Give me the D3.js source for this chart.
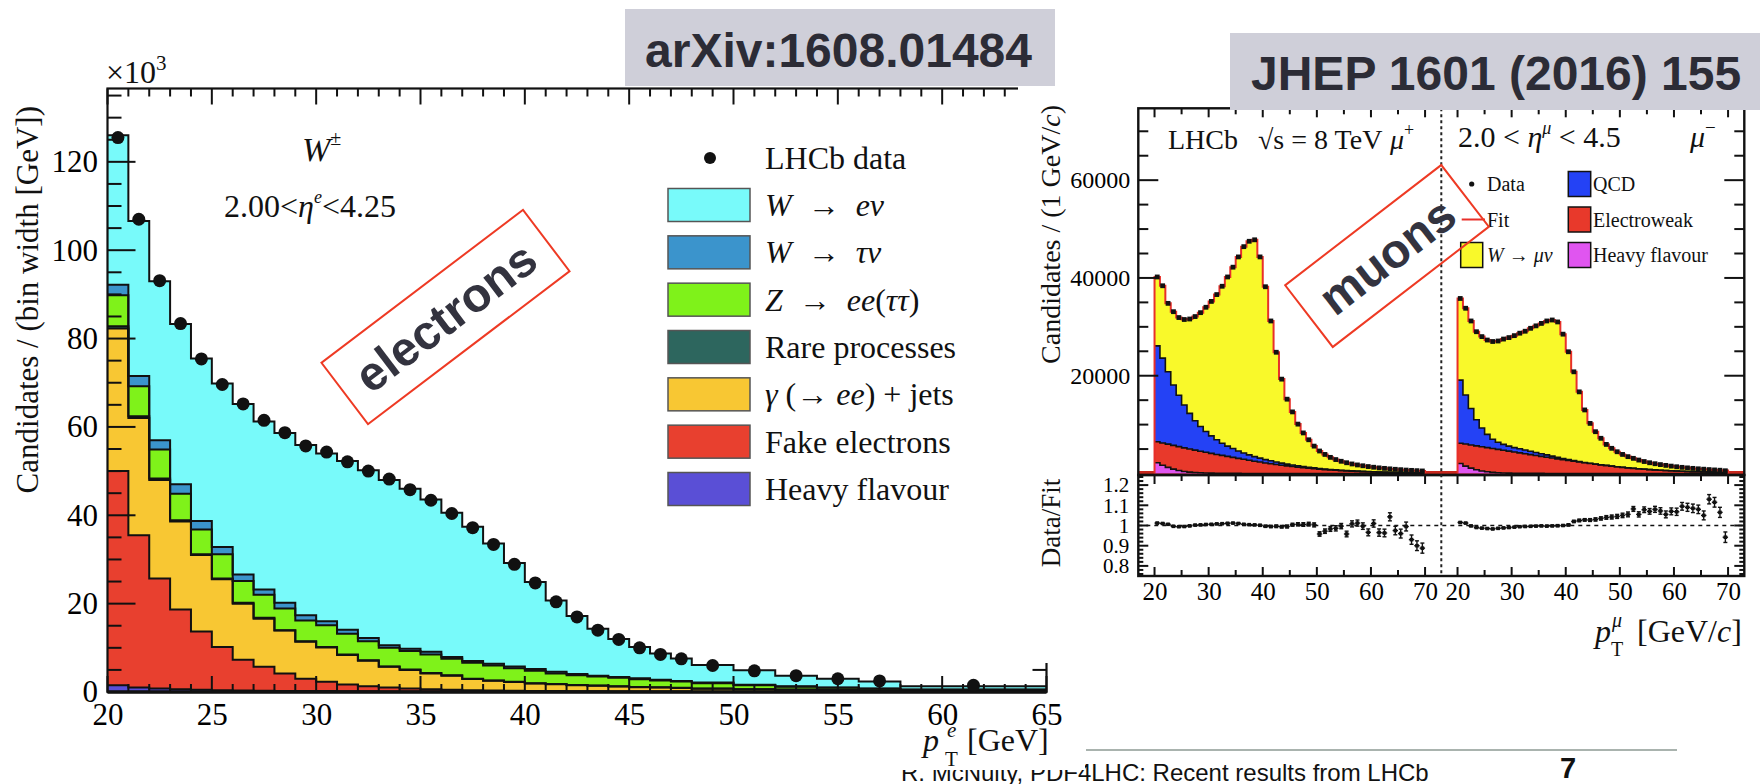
<!DOCTYPE html>
<html>
<head>
<meta charset="utf-8">
<script src="https://cdn.jsdelivr.net/npm/d3@7"></script>
<style>
  body { margin: 0; background: #fff; }
  svg { display: block; }
</style>
</head>
<body>
<svg id="chart" width="1760" height="784"></svg>
<script>
// ---------- W -> e nu analysis: pT(e) spectrum, stacked by process ----------
const eBinEdges = [20,21,22,23,24,25,26,27,28,29,30,31,32,33,34,35,36,37,38,39,40,41,42,43,44,45,46,47,48,50,52,54,56,58,65];
const electronData = [125.5,107.0,93.1,83.4,75.4,69.6,65.2,61.5,58.7,55.7,54.3,52.1,50.0,48.2,45.8,43.4,40.4,37.2,33.4,28.9,24.7,20.4,17.0,14.0,11.9,10.0,8.5,7.5,6.0,4.8,3.7,3.0,2.5,1.5];
const heavyFlavour  = [1.5,1.0,0.8,0.6,0.5,0.4,0.35,0.3,0.25,0.2,0.2,0.15,0.15,0.1,0.1,0.1,0.1,0.05,0.05,0.05,0.05,0.05,0.04,0.04,0.04,0.03,0.03,0.03,0.02,0.02,0.02,0.01,0.01,0.01];
const fakeElectrons = [48.5,34.5,24.9,18.1,13.2,9.8,6.95,5.4,3.95,2.8,2.1,1.55,1.15,0.9,0.7,0.5,0.4,0.35,0.3,0.25,0.2,0.15,0.14,0.12,0.1,0.09,0.07,0.06,0.06,0.04,0.03,0.03,0.02,0.01];
const gammaJets     = [32.3,26.5,22.3,19.9,17.3,15.3,12.7,10.9,9.7,8.4,7.8,6.7,5.8,4.7,4.2,3.6,3.2,2.55,2.2,1.95,1.7,1.55,1.37,1.24,1.11,0.98,0.9,0.81,0.67,0.54,0.45,0.36,0.27,0.18];
const rareProcesses = [0.5,0.4,0.3,0.3,0.2,0.2,0.2,0.2,0.1,0.1,0.1,0.1,0.1,0.1,0.1,0.1,0.1,0.05,0.05,0.05,0.05,0.05,0.05,0.05,0.05,0.05,0.05,0.05,0.05,0.05,0.05,0.05,0.05,0.05];
const zToEE         = [7.0,6.8,6.6,6.0,5.6,5.5,4.9,5.2,4.9,4.7,4.9,4.7,4.3,4.2,4.2,4.2,3.7,3.6,3.4,3.1,2.8,2.4,2.2,2.05,1.9,1.75,1.55,1.4,1.2,0.9,0.65,0.5,0.4,0.25];
const wToTauNu      = [2.4,2.3,2.1,2.1,1.9,1.6,1.5,1.2,1.3,1.2,0.9,0.9,0.7,0.6,0.5,0.6,0.4,0.4,0.4,0.4,0.4,0.4,0.3,0.2,0.2,0.2,0.2,0.15,0.15,0.1,0.1,0.05,0.05,0.05];
const wToENu        = [33.8,35.1,36.0,36.3,36.8,37.0,38.6,38.0,38.4,38.5,38.0,38.2,38.0,37.4,36.2,34.5,32.7,30.4,27.2,23.4,19.7,16.1,13.1,10.6,8.6,7.1,5.9,5.1,3.95,3.25,2.4,2.0,1.6,0.75];
const eTickLabels = [20,25,30,35,40,45,50,55,60,65];
const eYTickLabels = [0,20,40,60,80,100,120];
const eLegendLabels = ['W  \u2192  e\u03bd','W  \u2192  \u03c4\u03bd','Z  \u2192  ee(\u03c4\u03c4)','Rare processes','\u03b3 (\u2192 ee) + jets','Fake electrons','Heavy flavour'];

// ---------- W -> mu nu analysis: pT(mu) spectra for mu+ and mu-, 1 GeV bins 20-70 ----------
const muBins = d3.range(20, 70);
const dataMuPlus = [40200,38400,34800,33100,31900,31500,31600,32100,32900,34000,
  35200,36600,38300,40200,42200,44300,46400,47500,47800,44300,
  38200,31200,24800,19300,15200,12600,10100,8300,6900,5600,
  4600,3900,3300,2850,2500,2200,1950,1750,1580,1420,
  1280,1150,1050,950,860,780,700,640,580,520];
const hfMuPlus = [2200,1700,1250,900,620,420,290,200,140,100,
  70,50,40,30,24,19,15,12,10,8,
  7,6,5,5,4,4,3,3,3,2,
  2,2,2,2,1,1,1,1,1,1,
  1,1,1,1,1,1,1,1,1,1];
const ewMuPlus = [4300,4550,4750,4850,4880,4830,4710,4580,4420,4240,
  4050,3850,3660,3470,3280,3080,2890,2690,2510,2330,
  2150,1990,1840,1690,1550,1420,1300,1180,1070,970,
  880,800,720,650,590,530,480,430,390,350,
  320,290,260,230,210,190,170,150,140,120];
const qcdMuPlus = [19600,17350,14800,12350,10500,8750,7300,6020,5040,4260,
  3580,3000,2500,2100,1800,1500,1300,1100,930,810,
  690,600,510,430,370,320,280,240,210,180,
  150,120,110,90,80,70,60,50,45,40,
  35,30,30,25,23,20,18,15,13,12];
const wMuPlus = [14100,14800,14000,15000,15900,17500,19300,21300,23300,25400,
  27500,29700,32100,34600,37100,39700,42200,43700,44350,41150,
  35350,28600,22450,17180,13280,10860,8520,6880,5620,4450,
  3570,2980,2470,2110,1830,1600,1410,1270,1145,1030,
  925,830,760,690,627,570,512,470,427,383];
const ratioMuPlus = [1.012,1.010,1.006,0.996,0.994,0.995,0.998,1.002,1.003,1.005,
  1.006,1.008,1.009,1.011,1.012,1.010,1.006,1.004,1.003,1.001,
  0.996,0.995,0.996,0.994,0.995,1.004,1.006,1.005,1.007,1.003,
  0.958,0.972,0.983,0.986,0.997,0.958,1.008,1.012,0.997,0.966,
  1.010,0.965,0.963,1.043,0.975,0.960,0.995,0.930,0.900,0.888];
const errMuPlus = [0.003,0.003,0.003,0.003,0.003,0.003,0.003,0.003,0.003,0.003,
  0.003,0.003,0.003,0.003,0.003,0.003,0.003,0.003,0.003,0.004,
  0.005,0.005,0.006,0.006,0.007,0.007,0.008,0.009,0.009,0.010,
  0.011,0.011,0.012,0.013,0.013,0.014,0.015,0.015,0.016,0.017,
  0.018,0.018,0.019,0.020,0.021,0.022,0.022,0.023,0.024,0.025];

const dataMuMinus = [35800,33800,31200,29000,28000,27300,27000,27100,27500,27800,
  28200,28700,29100,29700,30200,30700,31200,31400,31000,28500,
  24900,20800,16700,13000,10250,8550,7200,5950,5150,4450,
  3900,3450,3100,2750,2450,2200,2000,1820,1660,1510,
  1380,1260,1150,1050,960,880,800,730,670,560];
const hfMuMinus = [2050,1500,1100,760,520,350,240,160,110,80,
  60,45,35,28,22,18,15,12,10,8,
  7,6,5,5,4,4,3,3,3,2,
  2,2,2,2,1,1,1,1,1,1,
  1,1,1,1,1,1,1,1,1,1];
const ewMuMinus = [4150,4520,4740,4900,4960,4950,4880,4780,4650,4500,
  4340,4180,4010,3830,3660,3480,3320,3150,2980,2810,
  2640,2490,2340,2190,2040,1900,1760,1630,1500,1370,
  1250,1150,1050,960,880,800,730,670,610,550,
  500,460,420,380,350,320,290,260,240,210];
const qcdMuMinus = [12900,10030,7460,5340,3820,2700,1880,1460,1190,1020,
  900,830,760,690,620,550,470,390,310,260,
  210,150,110,70,40,30,26,22,19,16,
  14,12,10,9,8,7,6,5,5,4,
  4,3,3,3,2,2,2,2,1,1];
const wMuMinus = [16700,17750,17900,18000,18700,19300,20000,20700,21550,22200,
  22900,23650,24300,25150,25900,26650,27400,27850,27700,25420,
  22040,18150,14250,10740,8170,6620,5410,4300,3630,3060,
  2640,2290,2040,1780,1560,1390,1260,1150,1050,960,
  880,800,730,660,610,560,510,460,430,390];
const ratioMuMinus = [1.015,1.012,0.998,0.990,0.987,0.985,0.983,0.986,0.988,0.990,
  0.992,0.994,0.995,0.996,0.997,0.998,0.997,0.998,0.999,1.000,
  1.003,1.020,1.025,1.028,1.027,1.030,1.035,1.040,1.042,1.045,
  1.050,1.055,1.082,1.055,1.078,1.070,1.080,1.072,1.055,1.070,
  1.068,1.095,1.090,1.085,1.080,1.050,1.130,1.115,1.065,0.942];
const errMuMinus = [0.003,0.003,0.003,0.003,0.003,0.003,0.003,0.003,0.003,0.003,
  0.003,0.003,0.003,0.003,0.003,0.003,0.003,0.003,0.004,0.004,
  0.005,0.005,0.006,0.006,0.007,0.008,0.008,0.009,0.010,0.010,
  0.011,0.012,0.012,0.013,0.014,0.014,0.015,0.016,0.017,0.017,
  0.018,0.019,0.020,0.021,0.021,0.022,0.023,0.024,0.025,0.026];
const muTickLabels = [20,30,40,50,60,70];
const muYTickLabels = [20000,40000,60000];
const ratioTickLabels = [0.8,0.9,1,1.1,1.2];
const muLegendLeft = ['Data','Fit','W \u2192 \u03bc\u03bd'];
const muLegendRight = ['QCD','Electroweak','Heavy flavour'];

// ---------- drawing ----------
const SERIF = '"Liberation Serif","Times New Roman",serif';
const SANS = '"Liberation Sans",Arial,Helvetica,sans-serif';
const svg = d3.select('#chart');

// slide footer (sits underneath the pasted figures)
svg.append('line').attr('x1', 1086).attr('x2', 1677).attr('y1', 750).attr('y2', 750)
  .attr('stroke', '#a9b3ae').attr('stroke-width', 2);
svg.append('text').attr('x', 901).attr('y', 781).attr('font-family', SANS).attr('font-size', 24)
  .attr('fill', '#111').text('R. McNulty, PDF4LHC: Recent results from LHCb');
svg.append('text').attr('x', 1560).attr('y', 778).attr('font-family', SANS).attr('font-size', 29)
  .attr('font-weight', 'bold').attr('fill', '#111').text('7');

// white backing of the electron figure
svg.append('rect').attr('x', 0).attr('y', 0).attr('width', 1085).attr('height', 770).attr('fill', '#fff');

// step-histogram helpers
const stepPts = layer => layer.flatMap(s => [
  { x: s.data.x0, lo: s[0], hi: s[1] },
  { x: s.data.x1, lo: s[0], hi: s[1] }
]);

// ===== electron figure =====
const L = svg.append('g');
const xe = d3.scaleLinear().domain([20, 65]).range([107.5, 1046.5]);
const ye = d3.scaleLinear().domain([0, 136.6]).range([692, 88.5]);
const eKeys = ['hf', 'fake', 'gamma', 'rare', 'z', 'wtau', 'we'];
const eColors = { hf: '#5a4fd6', fake: '#e8402f', gamma: '#f8c733', rare: '#2d665e', z: '#7ff21a', wtau: '#3b94cc', we: '#78fafa' };
const eRows = electronData.map((d, i) => ({
  x0: eBinEdges[i], x1: eBinEdges[i + 1], data: d,
  hf: heavyFlavour[i], fake: fakeElectrons[i], gamma: gammaJets[i], rare: rareProcesses[i],
  z: zToEE[i], wtau: wToTauNu[i], we: wToENu[i]
}));
const eStack = d3.stack().keys(eKeys)(eRows);
const eArea = d3.area().x(p => xe(p.x)).y0(p => ye(p.lo)).y1(p => ye(p.hi));
const eLine = d3.line().x(p => xe(p.x)).y(p => ye(p.hi));
L.selectAll('path.efill').data(eStack).join('path').attr('class', 'efill')
  .attr('d', l => eArea(stepPts(l))).attr('fill', l => eColors[l.key]);
L.selectAll('path.eedge').data(eStack).join('path').attr('class', 'eedge')
  .attr('d', l => eLine(stepPts(l))).attr('fill', 'none').attr('stroke', '#111').attr('stroke-width', 2);

// frame and inward ticks
const eTx = d3.range(20, 65.001, 1);
const eTy = d3.range(0, 136, 5);
L.selectAll('line.etb').data(eTx).join('line').attr('class', 'etb')
  .attr('x1', d => xe(d)).attr('x2', d => xe(d)).attr('y1', ye(0)).attr('y2', d => ye(0) - (d % 5 === 0 ? 16 : 8));
L.selectAll('line.ett').data(eTx).join('line').attr('class', 'ett')
  .attr('x1', d => xe(d)).attr('x2', d => xe(d)).attr('y1', ye(136.6)).attr('y2', d => ye(136.6) + (d % 5 === 0 ? 16 : 8));
L.selectAll('line.etl').data(eTy).join('line').attr('class', 'etl')
  .attr('y1', d => ye(d)).attr('y2', d => ye(d)).attr('x1', xe(20)).attr('x2', d => xe(20) + (d % 20 === 0 ? 28 : 14));
L.selectAll('line.etr').data(eTy).join('line').attr('class', 'etr')
  .attr('y1', d => ye(d)).attr('y2', d => ye(d)).attr('x1', xe(65)).attr('x2', d => xe(65) - (d % 20 === 0 ? 28 : 14));
L.selectAll('line').attr('stroke', '#111').attr('stroke-width', 2);
L.append('rect').attr('x', xe(20)).attr('y', ye(136.6)).attr('width', xe(65) - xe(20)).attr('height', ye(0) - ye(136.6))
  .attr('fill', 'none').attr('stroke', '#111').attr('stroke-width', 2.2);
L.append('line').attr('x1', xe(20)).attr('x2', xe(65)).attr('y1', ye(0)).attr('y2', ye(0)).attr('stroke', '#111').attr('stroke-width', 3.5);

// data points
L.selectAll('circle.ept').data(eRows).join('circle').attr('class', 'ept')
  .attr('cx', d => xe((d.x0 + d.x1) / 2)).attr('cy', d => ye(d.data)).attr('r', 6.5).attr('fill', '#111');

// tick labels
L.append('g').attr('transform', `translate(0,${ye(0)})`)
  .call(d3.axisBottom(xe).tickValues(eTickLabels).tickSize(0).tickPadding(11))
  .call(g => g.select('.domain').remove())
  .attr('font-family', SERIF).attr('font-size', 31);
L.append('g').attr('transform', `translate(${xe(20)},0)`)
  .call(d3.axisLeft(ye).tickValues(eYTickLabels).tickSize(0).tickPadding(9.5))
  .call(g => g.select('.domain').remove())
  .attr('font-family', SERIF).attr('font-size', 31);

// axis titles
const t10 = L.append('text').attr('x', 106).attr('y', 83).attr('font-family', SERIF).attr('font-size', 32).attr('fill', '#111');
t10.append('tspan').text('\u00d710');
t10.append('tspan').attr('font-size', 21).attr('dy', -13).text('3');
L.append('text').attr('transform', 'translate(38,106) rotate(-90)').attr('text-anchor', 'end')
  .attr('font-family', SERIF).attr('font-size', 31).attr('fill', '#111').text('Candidates / (bin width [GeV])');
const eXt = L.append('g').attr('font-family', SERIF).attr('fill', '#111');
eXt.append('text').attr('x', 923).attr('y', 751).attr('font-size', 32).attr('font-style', 'italic').text('p');
eXt.append('text').attr('x', 947).attr('y', 737).attr('font-size', 21).attr('font-style', 'italic').text('e');
eXt.append('text').attr('x', 945).attr('y', 766).attr('font-size', 21).text('T');
eXt.append('text').attr('x', 967).attr('y', 751).attr('font-size', 32).text('[GeV]');

// in-plot labels
const wpm = L.append('text').attr('x', 302).attr('y', 161).attr('font-family', SERIF).attr('font-size', 34).attr('fill', '#111');
wpm.append('tspan').attr('font-style', 'italic').text('W');
wpm.append('tspan').attr('font-size', 20).attr('dy', -16).text('\u00b1');
const etaE = L.append('text').attr('x', 224).attr('y', 217).attr('font-family', SERIF).attr('font-size', 32).attr('fill', '#111');
etaE.append('tspan').text('2.00<');
etaE.append('tspan').attr('font-style', 'italic').text('\u03b7');
etaE.append('tspan').attr('font-style', 'italic').attr('font-size', 18).attr('dy', -14).text('e');
etaE.append('tspan').attr('dy', 14).text('<4.25');

// legend
function mathLabel(sel, str, isMath) {
  if (!isMath) { sel.text(str); return; }
  const tokens = str.match(/[A-Za-z\u0370-\u03ff]+|[^A-Za-z\u0370-\u03ff]+/g);
  tokens.forEach(tok => {
    const word = /[A-Za-z\u0370-\u03ff]/.test(tok);
    sel.append('tspan').attr('font-style', word && tok !== 'jets' ? 'italic' : 'normal').text(tok);
  });
}
const eLeg = L.append('g').attr('font-family', SERIF).attr('font-size', 32).attr('fill', '#111');
eLeg.append('circle').attr('cx', 710).attr('cy', 158).attr('r', 6).attr('fill', '#111');
eLeg.append('text').attr('x', 765).attr('y', 169).text('LHCb data');
const legendKeys = ['we', 'wtau', 'z', 'rare', 'gamma', 'fake', 'hf'];
const legRow = d3.scaleLinear().domain([0, 6]).range([205, 489]);
legendKeys.forEach((k, i) => {
  const cy = legRow(i);
  eLeg.append('rect').attr('x', 668).attr('y', cy - 16.5).attr('width', 82).attr('height', 33)
    .attr('fill', eColors[k]).attr('stroke', '#555').attr('stroke-width', 1.5);
  const t = eLeg.append('text').attr('x', 765).attr('y', cy + 11).style('white-space', 'pre');
  mathLabel(t, eLegendLabels[i], eLegendLabels[i].includes('\u2192'));
});

// white backing of the muon figure
svg.append('rect').attr('x', 1018).attr('y', 0).attr('width', 742).attr('height', 663).attr('fill', '#fff');

// ===== muon figure =====
const R = svg.append('g');
const xr = d3.scaleLinear().domain([17, 129]).range([1138.3, 1744.3]);
const yr = d3.scaleLinear().domain([0, 74700]).range([473.5, 108.3]);
const rr = d3.scaleLinear().domain([0.75, 1.25]).range([576, 475]);
const muShift = 56;   // mu- spectrum is drawn to the right of the mu+ one
const muColors = { hf: '#e055f0', ew: '#e8392b', qcd: '#2442f5', w: '#f9f92a' };
const muSets = [
  { shift: 0, data: dataMuPlus, hf: hfMuPlus, ew: ewMuPlus, qcd: qcdMuPlus, w: wMuPlus, ratio: ratioMuPlus, err: errMuPlus },
  { shift: muShift, data: dataMuMinus, hf: hfMuMinus, ew: ewMuMinus, qcd: qcdMuMinus, w: wMuMinus, ratio: ratioMuMinus, err: errMuMinus }
];
const muArea = d3.area().x(p => xr(p.x)).y0(p => yr(p.lo)).y1(p => yr(p.hi));
const muLine = d3.line().x(p => xr(p.x)).y(p => yr(p.hi));

// red fit baseline along zero
R.append('line').attr('x1', xr(17)).attr('x2', xr(129)).attr('y1', yr(0) - 1).attr('y2', yr(0) - 1)
  .attr('stroke', '#c8281e').attr('stroke-width', 3);

muSets.forEach(set => {
  const rows = muBins.map((b, i) => ({
    x0: b + set.shift, x1: b + 1 + set.shift, data: set.data[i],
    hf: set.hf[i], ew: set.ew[i], qcd: set.qcd[i], w: set.w[i],
    ratio: set.ratio[i], err: set.err[i]
  }));
  const stack = d3.stack().keys(['hf', 'ew', 'qcd', 'w'])(rows);
  const g = R.append('g');
  g.selectAll('path.mfill').data(stack).join('path').attr('class', 'mfill')
    .attr('d', l => muArea(stepPts(l))).attr('fill', l => muColors[l.key]);
  g.selectAll('path.medge').data(stack.slice(0, 3)).join('path').attr('class', 'medge')
    .attr('d', l => muLine(stepPts(l))).attr('fill', 'none').attr('stroke', '#111').attr('stroke-width', 1.6);
  // fit outline
  const top = stepPts(stack[3]);
  const fitPts = [{ x: rows[0].x0, hi: 0 }, ...top, { x: rows[rows.length - 1].x1, hi: 0 }];
  g.append('path').attr('d', muLine(fitPts)).attr('fill', 'none').attr('stroke', '#e8302a').attr('stroke-width', 2);
  // data
  g.selectAll('rect.mpt').data(rows).join('rect').attr('class', 'mpt')
    .attr('x', d => xr(d.x0 + 0.5) - 2.4).attr('y', d => yr(d.data) - 2.4)
    .attr('width', 4.8).attr('height', 4.8).attr('fill', '#111');
  // ratio points
  const rg = R.append('g').attr('stroke', '#111').attr('stroke-width', 1.4);
  rg.selectAll('line.rh').data(rows).join('line').attr('class', 'rh')
    .attr('x1', d => xr(d.x0)).attr('x2', d => xr(d.x1)).attr('y1', d => rr(d.ratio)).attr('y2', d => rr(d.ratio));
  rg.selectAll('line.rv').data(rows).join('line').attr('class', 'rv')
    .attr('x1', d => xr(d.x0 + 0.5)).attr('x2', d => xr(d.x0 + 0.5))
    .attr('y1', d => rr(d.ratio - d.err)).attr('y2', d => rr(d.ratio + d.err));
  rg.selectAll('line.rc1').data(rows).join('line').attr('class', 'rc1')
    .attr('x1', d => xr(d.x0 + 0.5) - 2).attr('x2', d => xr(d.x0 + 0.5) + 2)
    .attr('y1', d => rr(d.ratio + d.err)).attr('y2', d => rr(d.ratio + d.err));
  rg.selectAll('line.rc2').data(rows).join('line').attr('class', 'rc2')
    .attr('x1', d => xr(d.x0 + 0.5) - 2).attr('x2', d => xr(d.x0 + 0.5) + 2)
    .attr('y1', d => rr(d.ratio - d.err)).attr('y2', d => rr(d.ratio - d.err));
  rg.selectAll('rect.rpt').data(rows).join('rect').attr('class', 'rpt').attr('stroke', 'none')
    .attr('x', d => xr(d.x0 + 0.5) - 1.8).attr('y', d => rr(d.ratio) - 1.8)
    .attr('width', 3.6).attr('height', 3.6).attr('fill', '#111');
});

// reference line at unity
R.append('line').attr('x1', xr(17)).attr('x2', xr(129)).attr('y1', rr(1)).attr('y2', rr(1))
  .attr('stroke', '#111').attr('stroke-width', 1.6).attr('stroke-dasharray', '4,4');

// frames
R.append('rect').attr('x', xr(17)).attr('y', yr(74700)).attr('width', xr(129) - xr(17)).attr('height', rr(1.25) - yr(74700))
  .attr('fill', 'none').attr('stroke', '#111').attr('stroke-width', 2.4);
R.append('rect').attr('x', xr(17)).attr('y', rr(1.25)).attr('width', xr(129) - xr(17)).attr('height', rr(0.75) - rr(1.25))
  .attr('fill', 'none').attr('stroke', '#111').attr('stroke-width', 2.4);

// separator between the two charges
R.append('line').attr('x1', xr(73)).attr('x2', xr(73)).attr('y1', yr(74700)).attr('y2', rr(0.75))
  .attr('stroke', '#222').attr('stroke-width', 2).attr('stroke-dasharray', '3,3');

// ticks
const muTx = [...d3.range(20, 70.1, 5), ...d3.range(20, 70.1, 5).map(v => v + muShift)];
const isMajorX = v => ((v >= 73 ? v - muShift : v) % 10) === 0;
const tk = R.append('g').attr('stroke', '#111').attr('stroke-width', 2);
tk.selectAll('line.a').data(muTx).join('line').attr('class', 'a')
  .attr('x1', d => xr(d)).attr('x2', d => xr(d)).attr('y1', yr(74700)).attr('y2', d => yr(74700) + (isMajorX(d) ? 9 : 6));
tk.selectAll('line.b').data(muTx).join('line').attr('class', 'b')
  .attr('x1', d => xr(d)).attr('x2', d => xr(d)).attr('y1', rr(1.25)).attr('y2', d => rr(1.25) + (isMajorX(d) ? 9 : 6));
tk.selectAll('line.c').data(muTx).join('line').attr('class', 'c')
  .attr('x1', d => xr(d)).attr('x2', d => xr(d)).attr('y1', rr(0.75)).attr('y2', d => rr(0.75) - (isMajorX(d) ? 9 : 6));
const muTy = d3.range(5000, 74700, 5000);
tk.selectAll('line.d').data(muTy).join('line').attr('class', 'd')
  .attr('y1', d => yr(d)).attr('y2', d => yr(d)).attr('x1', xr(17)).attr('x2', d => xr(17) + (d % 20000 === 0 ? 20 : 10));
tk.selectAll('line.e').data(muTy).join('line').attr('class', 'e')
  .attr('y1', d => yr(d)).attr('y2', d => yr(d)).attr('x1', xr(129)).attr('x2', d => xr(129) - (d % 20000 === 0 ? 20 : 10));
const rTy = d3.range(38, 63).map(v => v / 50);
const isMajorR = v => Math.abs(v * 10 - Math.round(v * 10)) < 1e-6;
tk.selectAll('line.f').data(rTy).join('line').attr('class', 'f')
  .attr('y1', d => rr(d)).attr('y2', d => rr(d)).attr('x1', xr(17)).attr('x2', d => xr(17) + (isMajorR(d) ? 10 : 5));
tk.selectAll('line.g').data(rTy).join('line').attr('class', 'g')
  .attr('y1', d => rr(d)).attr('y2', d => rr(d)).attr('x1', xr(129)).attr('x2', d => xr(129) - (isMajorR(d) ? 10 : 5));

// tick labels
R.append('g').attr('transform', `translate(0,${rr(0.75)})`)
  .call(d3.axisBottom(xr).tickValues([...muTickLabels, ...muTickLabels.map(v => v + muShift)])
    .tickFormat(d => d >= 73 ? d - muShift : d).tickSize(0).tickPadding(6))
  .call(g => g.select('.domain').remove())
  .attr('font-family', SERIF).attr('font-size', 25);
R.append('g').attr('transform', `translate(${xr(17)},0)`)
  .call(d3.axisLeft(yr).tickValues(muYTickLabels).tickFormat(d3.format('d')).tickSize(0).tickPadding(8))
  .call(g => g.select('.domain').remove())
  .attr('font-family', SERIF).attr('font-size', 24);
R.append('g').attr('transform', `translate(${xr(17)},0)`)
  .call(d3.axisLeft(rr).tickValues(ratioTickLabels).tickFormat(d => d === 1 ? '1' : d3.format('.1f')(d)).tickSize(0).tickPadding(9))
  .call(g => g.select('.domain').remove())
  .attr('font-family', SERIF).attr('font-size', 21);

// axis titles
const yTm = R.append('text').attr('transform', 'translate(1060,105) rotate(-90)').attr('text-anchor', 'end')
  .attr('font-family', SERIF).attr('font-size', 28).attr('fill', '#111');
yTm.append('tspan').text('Candidates / (1 GeV/');
yTm.append('tspan').attr('font-style', 'italic').text('c');
yTm.append('tspan').text(')');
R.append('text').attr('transform', 'translate(1060,523) rotate(-90)').attr('text-anchor', 'middle')
  .attr('font-family', SERIF).attr('font-size', 27).attr('fill', '#111').text('Data/Fit');
const mXt = R.append('g').attr('font-family', SERIF).attr('fill', '#111');
mXt.append('text').attr('x', 1595).attr('y', 642).attr('font-size', 32).attr('font-style', 'italic').text('p');
mXt.append('text').attr('x', 1612).attr('y', 627).attr('font-size', 20).attr('font-style', 'italic').text('\u03bc');
mXt.append('text').attr('x', 1611).attr('y', 656).attr('font-size', 20).text('T');
const gevc = mXt.append('text').attr('x', 1637).attr('y', 642).attr('font-size', 32);
gevc.append('tspan').text('[GeV/');
gevc.append('tspan').attr('font-style', 'italic').text('c');
gevc.append('tspan').text(']');

// in-plot labels
const lh = R.append('text').attr('y', 149).attr('font-family', SERIF).attr('font-size', 28).attr('fill', '#111');
lh.append('tspan').attr('x', 1168).text('LHCb');
lh.append('tspan').attr('x', 1258).text('\u221as = 8 TeV');
lh.append('tspan').attr('x', 1390).attr('font-style', 'italic').text('\u03bc');
lh.append('tspan').attr('font-size', 18).attr('dy', -13).text('+');
const etaM = R.append('text').attr('x', 1458).attr('y', 147).attr('font-family', SERIF).attr('font-size', 30).attr('fill', '#111').style('white-space', 'pre');
etaM.append('tspan').text('2.0 < ');
etaM.append('tspan').attr('font-style', 'italic').text('\u03b7');
etaM.append('tspan').attr('font-style', 'italic').attr('font-size', 18).attr('dy', -13).text('\u03bc');
etaM.append('tspan').attr('dy', 13).text(' < 4.5');
const mm = R.append('text').attr('x', 1690).attr('y', 147).attr('font-family', SERIF).attr('font-size', 30).attr('fill', '#111');
mm.append('tspan').attr('font-style', 'italic').text('\u03bc');
mm.append('tspan').attr('font-size', 19).attr('dy', -13).text('\u2212');

// legend
const mLeg = R.append('g').attr('font-family', SERIF).attr('font-size', 20).attr('fill', '#111');
const mRow = d3.scaleLinear().domain([0, 2]).range([184, 255]);
mLeg.append('circle').attr('cx', 1471.7).attr('cy', mRow(0)).attr('r', 2.6).attr('fill', '#111');
mLeg.append('line').attr('x1', 1461.7).attr('x2', 1485).attr('y1', mRow(1)).attr('y2', mRow(1)).attr('stroke', '#e8302a').attr('stroke-width', 2);
mLeg.append('rect').attr('x', 1460.7).attr('y', mRow(2) - 12.5).attr('width', 22).attr('height', 25)
  .attr('fill', muColors.w).attr('stroke', '#111').attr('stroke-width', 1.5);
muLegendLeft.forEach((s, i) => {
  const t = mLeg.append('text').attr('x', 1487).attr('y', mRow(i) + 7);
  mathLabel(t, s, s.includes('\u2192'));
});
['qcd', 'ew', 'hf'].forEach((k, i) => {
  mLeg.append('rect').attr('x', 1568.3).attr('y', mRow(i) - 12.5).attr('width', 22.4).attr('height', 25)
    .attr('fill', muColors[k]).attr('stroke', '#111').attr('stroke-width', 1.5);
  mLeg.append('text').attr('x', 1593).attr('y', mRow(i) + 7).text(muLegendRight[i]);
});

// ===== reference banners =====
function banner(x, y, w, h, tx, ty, label) {
  svg.append('rect').attr('x', x).attr('y', y).attr('width', w).attr('height', h).attr('fill', '#cfcfd9');
  svg.append('text').attr('x', tx).attr('y', ty).attr('font-family', SANS).attr('font-size', 48)
    .attr('font-weight', 'bold').attr('fill', '#2c2c36').text(label);
}
banner(625, 9, 430, 77, 645, 67, 'arXiv:1608.01484');
banner(1230, 33, 530, 77, 1251, 90, 'JHEP 1601 (2016) 155');

// ===== rotated callouts =====
function callout(cx, cy, w, h, angle, label) {
  const g = svg.append('g').attr('transform', `translate(${cx},${cy}) rotate(${angle})`);
  g.append('rect').attr('x', -w / 2).attr('y', -h / 2).attr('width', w).attr('height', h)
    .attr('fill', 'none').attr('stroke', '#ee3a24').attr('stroke-width', 2);
  g.append('text').attr('text-anchor', 'middle').attr('dy', '0.35em')
    .attr('font-family', SANS).attr('font-size', 48).attr('font-weight', 'bold').attr('fill', '#33333f').text(label);
}
callout(445.5, 317, 253, 77, -37.2, 'electrons');
callout(1387, 256, 197, 78, -37.6, 'muons');
</script>
</body>
</html>
